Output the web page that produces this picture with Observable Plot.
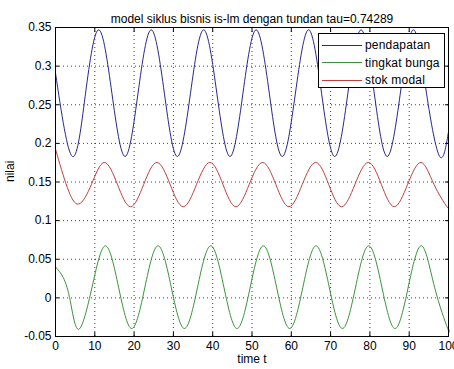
<!DOCTYPE html>
<html><head><meta charset="utf-8">
<script src="https://cdn.jsdelivr.net/npm/d3@7"></script>
<script src="https://cdn.jsdelivr.net/npm/@observablehq/plot@0.6"></script>
<style>
body{margin:0;background:#fff;}
#wrap{position:relative;width:454px;height:369px;font-family:"Liberation Sans",Arial,sans-serif;}
#legend{position:absolute;left:318px;top:33px;width:127px;height:55px;border:1px solid #000;background:#fff;box-sizing:border-box;font-size:12px;color:#000;letter-spacing:0.2px;}
.row{position:absolute;left:3px;height:14px;display:flex;align-items:center;white-space:nowrap;}
.sw{width:40px;height:0;border-top:1px solid;margin-right:3px;}
</style></head><body><div id="wrap"></div>
<script>
const title = "model siklus bisnis is-lm dengan tundan tau=0.74289";
const xLabel = "time t";
const yLabel = "nilai";
const seriesNames = ["pendapatan", "tingkat bunga", "stok modal"];
const seriesColors = ["#282888", "#3a943a", "#c04040"];
const xTicks = [0,10,20,30,40,50,60,70,80,90,100];
const yTicks = [-0.05,0,0.05,0.1,0.15,0.2,0.25,0.3,0.35];

const pendapatanT = [0,4.3,7.65,11.0,14.35,17.7,21.0,24.35,27.7,31.0,34.35,37.7,41.05,44.4,47.7,51.05,54.4,57.7,61.05,64.4,67.7,71.05,74.4,77.75,81.1,84.4,87.75,91.1,94.4,97.75,100];
const pendapatan  = [0.291,0.183,0.265,0.347,0.265,0.183,0.265,0.347,0.265,0.183,0.265,0.347,0.265,0.183,0.265,0.347,0.265,0.183,0.265,0.347,0.265,0.183,0.265,0.347,0.265,0.183,0.265,0.347,0.265,0.183,0.215];

const bungaT = [0,2.0,3.8,5.95,9.3,12.7,16.05,19.4,22.75,26.1,29.45,32.8,36.15,39.5,42.85,46.2,49.55,52.9,56.25,59.6,62.95,66.3,69.65,73.0,76.35,79.7,83.05,86.4,89.75,93.1,96.45,99.8,100];
const bunga  = [0.040,0.026,-0.005,-0.0406,0.0139,0.0674,0.0139,-0.0397,0.0139,0.0674,0.0139,-0.0397,0.0139,0.0674,0.0139,-0.0397,0.0139,0.0674,0.0139,-0.0397,0.0139,0.0674,0.0139,-0.0397,0.0139,0.0674,0.0139,-0.0397,0.0139,0.0674,0.0139,-0.0397,-0.0396];

const modalT = [0,3.0,5.9,9.15,12.4,15.75,19.1,22.45,25.8,29.15,32.5,35.9,39.3,42.6,45.9,49.3,52.7,56.05,59.4,62.8,66.2,69.5,72.8,76.2,79.6,82.9,86.2,89.6,93.0,96.3,99.6,100];
const modal  = [0.1926,0.143,0.1214,0.147,0.1753,0.147,0.118,0.147,0.1753,0.147,0.118,0.147,0.1753,0.147,0.118,0.147,0.1753,0.147,0.118,0.147,0.1753,0.147,0.118,0.147,0.1753,0.147,0.118,0.147,0.1753,0.147,0.118,0.1181];

const toRows = (T, V) => T.map((t, i) => ({t, v: V[i]}));
const seriesData = [toRows(pendapatanT, pendapatan), toRows(bungaT, bunga), toRows(modalT, modal)];
const fmtY = d => String(+d.toFixed(2));
const gridStyle = {stroke: "#000", strokeOpacity: 0.75, strokeDasharray: "1,3"};

const chart = Plot.plot({
  width: 454, height: 369,
  marginTop: 27, marginBottom: 33, marginLeft: 55, marginRight: 6,
  style: {fontFamily: "Liberation Sans, Arial, sans-serif", fontSize: "12px", color: "#000", background: "#fff"},
  x: {domain: [0, 100]},
  y: {domain: [-0.05, 0.35]},
  marks: [
    Plot.gridX(xTicks, gridStyle),
    Plot.gridY(yTicks, gridStyle),
    ...seriesData.map((d, i) => Plot.line(d, {x: "t", y: "v", stroke: seriesColors[i], strokeWidth: 1, curve: "natural"})),
    Plot.frame({stroke: "#000"}),
    Plot.axisX({ticks: xTicks, anchor: "bottom", tickSize: -4, tickPadding: 9, tickFormat: d => String(d), label: null}),
    Plot.axisX({ticks: xTicks, anchor: "top", tickSize: -4, tickFormat: () => "", label: null}),
    Plot.axisY({ticks: yTicks, anchor: "left", tickSize: -4, tickPadding: 8, tickFormat: fmtY, label: null}),
    Plot.axisY({ticks: yTicks, anchor: "right", tickSize: -4, tickFormat: () => "", label: null}),
    Plot.text([title], {text: d => d, frameAnchor: "top", dy: -13}),
    Plot.text([xLabel], {text: d => d, frameAnchor: "bottom", dy: 26}),
    Plot.text([yLabel], {text: d => d, frameAnchor: "left", dx: -45, rotate: -90})
  ]
});
const wrap = document.getElementById("wrap");
wrap.appendChild(chart);
const legend = document.createElement("div");
legend.id = "legend";
const rowTops = [4, 21.5, 39];
seriesNames.forEach((name, i) => {
  const row = document.createElement("div");
  row.className = "row";
  row.style.top = rowTops[i] + "px";
  const sw = document.createElement("span");
  sw.className = "sw";
  sw.style.borderTopColor = seriesColors[i];
  const tx = document.createElement("span");
  tx.textContent = name;
  row.appendChild(sw); row.appendChild(tx);
  legend.appendChild(row);
});
wrap.appendChild(legend);
</script></body></html>
